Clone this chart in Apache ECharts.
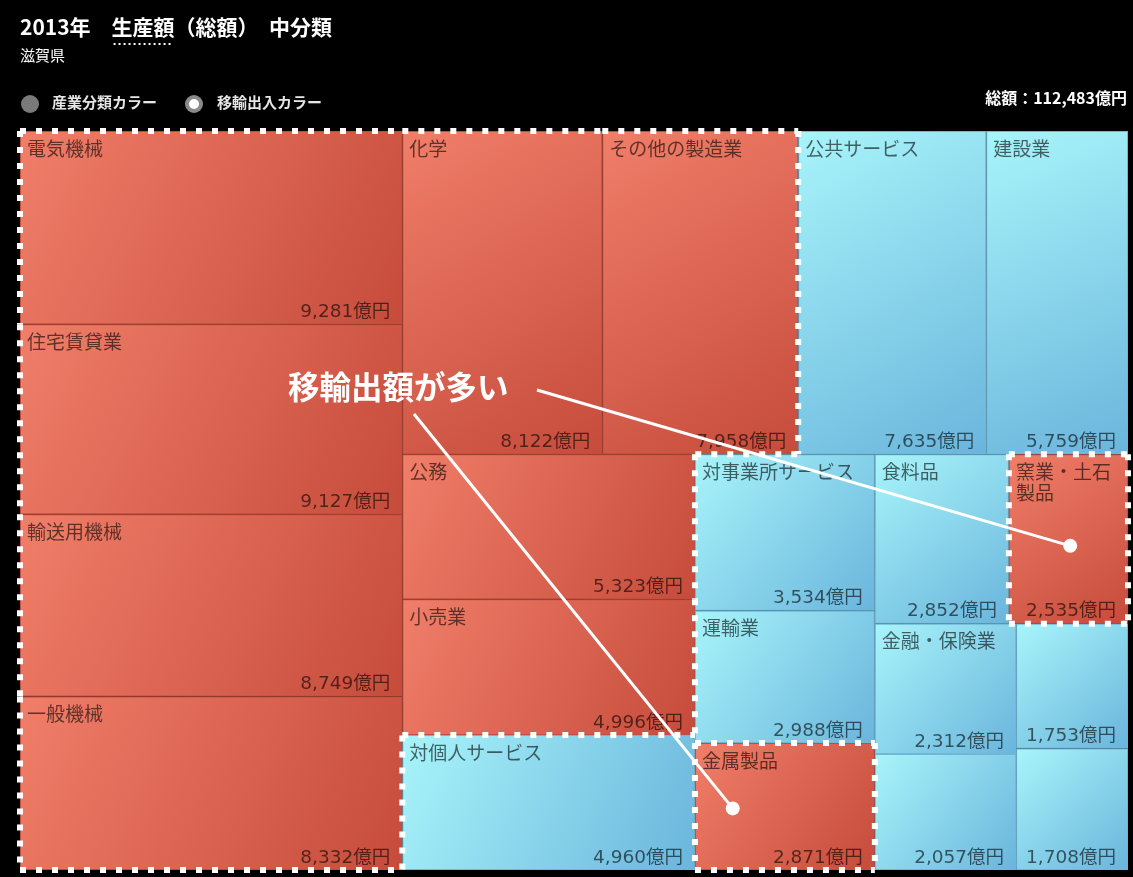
<!DOCTYPE html>
<html><head><meta charset="utf-8">
<script src="https://cdn.jsdelivr.net/npm/echarts@6/dist/echarts.min.js"></script>
<style>html,body{margin:0;padding:0;background:#000;}#c{width:1133px;height:877px;}</style>
</head><body><div id="c"></div>
<script>
// ---- data ----
const categories = ['電気機械','住宅賃貸業','輸送用機械','一般機械','化学','その他の製造業','公共サービス','建設業','公務','小売業','対個人サービス','対事業所サービス','運輸業','金属製品','食料品','窯業・土石製品','金融・保険業','','',''];
const values = [9281,9127,8749,8332,8122,7958,7635,5759,5323,4996,4960,3534,2988,2871,2852,2535,2312,2057,1753,1708];
const netExport = [true,true,true,true,true,true,false,false,true,true,false,false,false,true,false,true,false,false,false,false];
const totalValue = 112483;
const titleParts = ['2013年　', '生産額', '（総額）　中分類'];
const regionName = '滋賀県';
const colorModes = ['産業分類カラー', '移輸出入カラー'];
const annotationText = '移輸出額が多い';
const annotatedCategories = ['窯業・土石製品', '金属製品'];

// ---- style ----
const FONT = '"Noto Sans CJK JP", "Noto Sans", sans-serif';
const NUMFONT = '"DejaVu Sans", "Noto Sans CJK JP", sans-serif';
const BOX = {left: 20, top: 131, width: 1108, height: 739};
const RED = {type:'linear', x:0, y:0, x2:1, y2:1, colorStops:[{offset:0,color:'#f07e69'},{offset:1,color:'#c64b3b'}]};
const CYAN = {type:'linear', x:0, y:0, x2:1, y2:1, colorStops:[{offset:0,color:'#a8f4fa'},{offset:1,color:'#6ab5dc'}]};
const RED_EDGE = '#bf4f3f';
const CYAN_EDGE = '#72b6d6';

const chart = echarts.init(document.getElementById('c'), null, {renderer: 'canvas'});

const cellData = categories.map((n, i) => ({
  name: n, value: values[i],
  itemStyle: {color: netExport[i] ? RED : CYAN, borderColor: netExport[i] ? RED_EDGE : CYAN_EDGE, borderWidth: 1}
}));
const valueData = categories.map((n, i) => ({
  name: n, value: values[i],
  itemStyle: {color: 'rgba(0,0,0,0)', borderColor: 'rgba(0,0,0,0)', borderWidth: 0}
}));

const common = {
  type: 'treemap', left: BOX.left, top: BOX.top, width: BOX.width, height: BOX.height,
  roam: false, nodeClick: false, breadcrumb: {show: false}, animation: false,
  emphasis: {disabled: true}
};

const TITLE_LEFT = 15, TITLE_PAD = 5;
chart.setOption({
  backgroundColor: '#000',
  animation: false,
  title: {
    text: titleParts.join(''), subtext: regionName, left: TITLE_LEFT, top: 12, itemGap: 10, padding: TITLE_PAD,
    textStyle: {color: '#fff', fontSize: 21, fontWeight: 'bold', fontFamily: FONT},
    subtextStyle: {color: '#fff', fontSize: 15, fontFamily: FONT}
  },
  series: [
    Object.assign({}, common, {
      itemStyle: {borderColor: '#000', borderWidth: 0, gapWidth: 0},
      data: cellData,
      label: {show: true, position: 'insideTopLeft', formatter: p => p.name,
        color: 'rgba(0,0,0,0.6)', fontSize: 19, lineHeight: 21, fontFamily: FONT,
        padding: [6, 14, 0, 6], overflow: 'break'}
    }),
    Object.assign({}, common, {
      silent: true,
      itemStyle: {borderColor: 'rgba(0,0,0,0)', borderWidth: 0, gapWidth: 0},
      data: valueData,
      label: {show: true, position: 'insideBottomRight',
        formatter: p => p.value.toLocaleString('en-US') + '億円',
        color: 'rgba(0,0,0,0.6)', fontSize: 18.5, fontFamily: NUMFONT,
        padding: [0, 12, 3, 0], overflow: 'none'}
    })
  ]
});

// ---- overlays computed from the treemap layout ----
const sm = chart.getModel().getSeriesByIndex(0);
const nodes = sm.getData().tree.root.children;
const rects = nodes.map(nd => {
  const l = nd.getLayout();
  const idx = values.indexOf(nd.getValue());
  return {x: BOX.left + l.x, y: BOX.top + l.y, w: l.width, h: l.height, red: netExport[idx], name: categories[idx]};
});
function redAt(px, py) {
  return rects.some(r => r.red && px > r.x && px < r.x + r.w && py > r.y && py < r.y + r.h);
}
const graphics = [];
const dotted = {stroke: '#fff', lineWidth: 6, lineDash: [6, 10], lineCap: 'butt'};
function addEdge(horizontal, fixed, from, to, outOffset) {
  let start = null;
  for (let t = from + 0.5; t <= to; t += 1) {
    const out = horizontal ? !redAt(t, fixed + outOffset) : !redAt(fixed + outOffset, t);
    if (out && start === null) start = t - 0.5;
    if ((!out || t + 1 > to) && start !== null) {
      const end = out ? to : t - 0.5;
      if (end - start > 2) {
        graphics.push({type: 'line', z: 100, silent: true,
          shape: horizontal ? {x1: start, y1: fixed, x2: end, y2: fixed} : {x1: fixed, y1: start, x2: fixed, y2: end},
          style: dotted});
      }
      start = null;
    }
  }
}
rects.filter(r => r.red).forEach(r => {
  addEdge(true, r.y, r.x, r.x + r.w, -3);
  addEdge(true, r.y + r.h, r.x, r.x + r.w, 3);
  addEdge(false, r.x, r.y, r.y + r.h, -3);
  addEdge(false, r.x + r.w, r.y, r.y + r.h, 3);
});

// annotation
const rA = rects.find(r => r.name === annotatedCategories[0]);
const rB = rects.find(r => r.name === annotatedCategories[1]);
const pA = [rA.x + rA.w * 0.515, rA.y + rA.h * 0.54];
const pB = [rB.x + rB.w * 0.21, rB.y + rB.h * 0.515];
graphics.push(
  {type: 'text', z: 110, left: 288, top: 371, style: {text: annotationText, fill: '#fff', font: 'bold 31.5px ' + FONT}},
  {type: 'line', z: 105, shape: {x1: 537, y1: 390, x2: pA[0], y2: pA[1]}, style: {stroke: '#fff', lineWidth: 3}},
  {type: 'line', z: 105, shape: {x1: 414, y1: 414, x2: pB[0], y2: pB[1]}, style: {stroke: '#fff', lineWidth: 3}},
  {type: 'circle', z: 106, shape: {cx: pA[0], cy: pA[1], r: 7}, style: {fill: '#fff'}},
  {type: 'circle', z: 106, shape: {cx: pB[0], cy: pB[1], r: 7}, style: {fill: '#fff'}}
);

// title underline under 生産額
const cv = document.createElement('canvas').getContext('2d');
cv.font = 'bold 21px ' + FONT;
const u0 = TITLE_LEFT + TITLE_PAD + cv.measureText(titleParts[0]).width;
const u1 = u0 + cv.measureText(titleParts[1]).width;
graphics.push({type: 'line', shape: {x1: u0 + 2, y1: 44, x2: u1 - 2, y2: 44}, style: {stroke: '#fff', lineWidth: 2, lineDash: [2, 3]}});

// color-mode radio buttons
graphics.push(
  {type: 'circle', shape: {cx: 30, cy: 104, r: 9}, style: {fill: '#7a7a7a'}},
  {type: 'text', left: 52, top: 95, style: {text: colorModes[0], fill: '#e6e6e6', font: 'bold 15px ' + FONT}},
  {type: 'circle', shape: {cx: 194, cy: 104, r: 9}, style: {fill: '#8a8a8a'}},
  {type: 'circle', shape: {cx: 194, cy: 104, r: 5}, style: {fill: '#fff'}},
  {type: 'text', left: 217, top: 95, style: {text: colorModes[1], fill: '#e6e6e6', font: 'bold 15px ' + FONT}},
  {type: 'text', right: 6, top: 90, style: {text: '総額：' + totalValue.toLocaleString('en-US') + '億円', fill: '#fff', font: 'bold 16px ' + FONT}}
);

chart.setOption({graphic: graphics});
</script></body></html>
